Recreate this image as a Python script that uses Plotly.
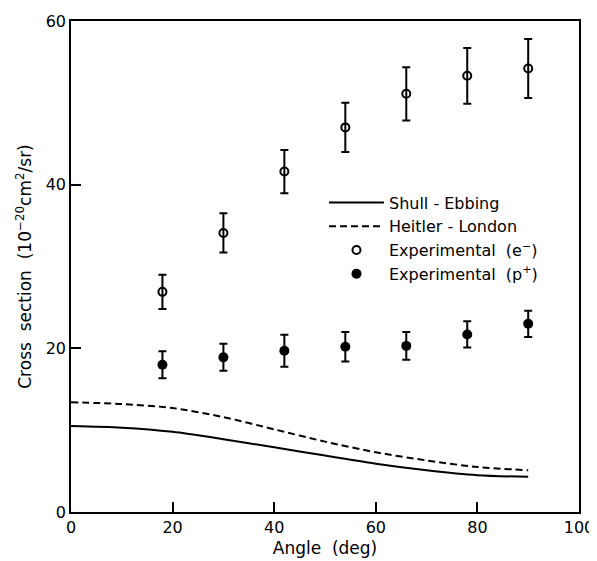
import plotly.graph_objects as go

# theory curves (angle in deg)
curve_angle = [0, 10, 20, 30, 40, 50, 60, 70, 80, 90]
shull_ebbing = [10.5, 10.3, 9.8, 8.9, 7.9, 6.9, 5.9, 5.1, 4.5, 4.3]
heitler_london = [13.4, 13.2, 12.7, 11.6, 10.1, 8.6, 7.3, 6.3, 5.5, 5.1]

# measurements
exp_angle = [18, 30, 42, 54, 66, 78, 90]
electron = [26.9, 34.1, 41.6, 47.0, 51.1, 53.3, 54.2]
electron_err = [2.1, 2.4, 2.65, 3.0, 3.25, 3.4, 3.6]
proton = [18.0, 18.9, 19.7, 20.2, 20.3, 21.7, 23.0]
proton_err = [1.65, 1.65, 1.95, 1.8, 1.7, 1.6, 1.6]

FONT = "DejaVu Sans"

fig = go.Figure()

fig.add_trace(go.Scatter(
    x=curve_angle, y=shull_ebbing, mode="lines", name="Shull - Ebbing",
    line=dict(color="black", width=2, shape="spline", smoothing=0.8), legendgroup="a"
))
fig.add_trace(go.Scatter(
    x=curve_angle, y=heitler_london, mode="lines", name="Heitler - London",
    line=dict(color="black", width=2, dash="7px,4px", shape="spline", smoothing=0.8), legendgroup="b"
))
fig.add_trace(go.Scatter(
    x=exp_angle, y=electron, mode="markers", name="Experimental  (e<sup>\u2212</sup>)",
    marker=dict(symbol="circle-open", size=8, color="black", line=dict(width=2)),
    error_y=dict(type="data", array=electron_err, color="black", thickness=2, width=4),
    legendgroup="c"
))
fig.add_trace(go.Scatter(
    x=exp_angle, y=proton, mode="markers", name="Experimental  (p<sup>+</sup>)",
    marker=dict(symbol="circle", size=10, color="black"),
    error_y=dict(type="data", array=proton_err, color="black", thickness=2, width=4),
    legendgroup="d"
))

axis_common = dict(
    showgrid=False, zeroline=False, showline=True, linecolor="black", linewidth=1.5,
    mirror=True, ticks="inside", ticklen=10, tickwidth=1.5, tickcolor="black",
    tickfont=dict(family=FONT, size=16, color="black"), automargin=False,
)

# the page puts the figure 8px in from the top-left corner
fig.update_layout(
    width=589, height=553,
    margin=dict(l=63, r=18, t=13, b=49),
    paper_bgcolor="white", plot_bgcolor="white",
    font=dict(family=FONT, color="black"),
    xaxis=dict(range=[0, 100], dtick=20, title=dict(text="Angle  (deg)", font=dict(size=17), standoff=6), **axis_common),
    yaxis=dict(range=[0, 60], dtick=20,
               title=dict(text="Cross  section  (10<sup>\u221220</sup>cm<sup>2</sup>/sr)", font=dict(size=17), standoff=10),
               **axis_common),
    legend=dict(x=0.498, y=0.665, xanchor="left", yanchor="top", bgcolor="rgba(0,0,0,0)",
                font=dict(family=FONT, size=16), itemwidth=55, tracegroupgap=0,
                traceorder="grouped"),
)

fig.write_html("out.html")
